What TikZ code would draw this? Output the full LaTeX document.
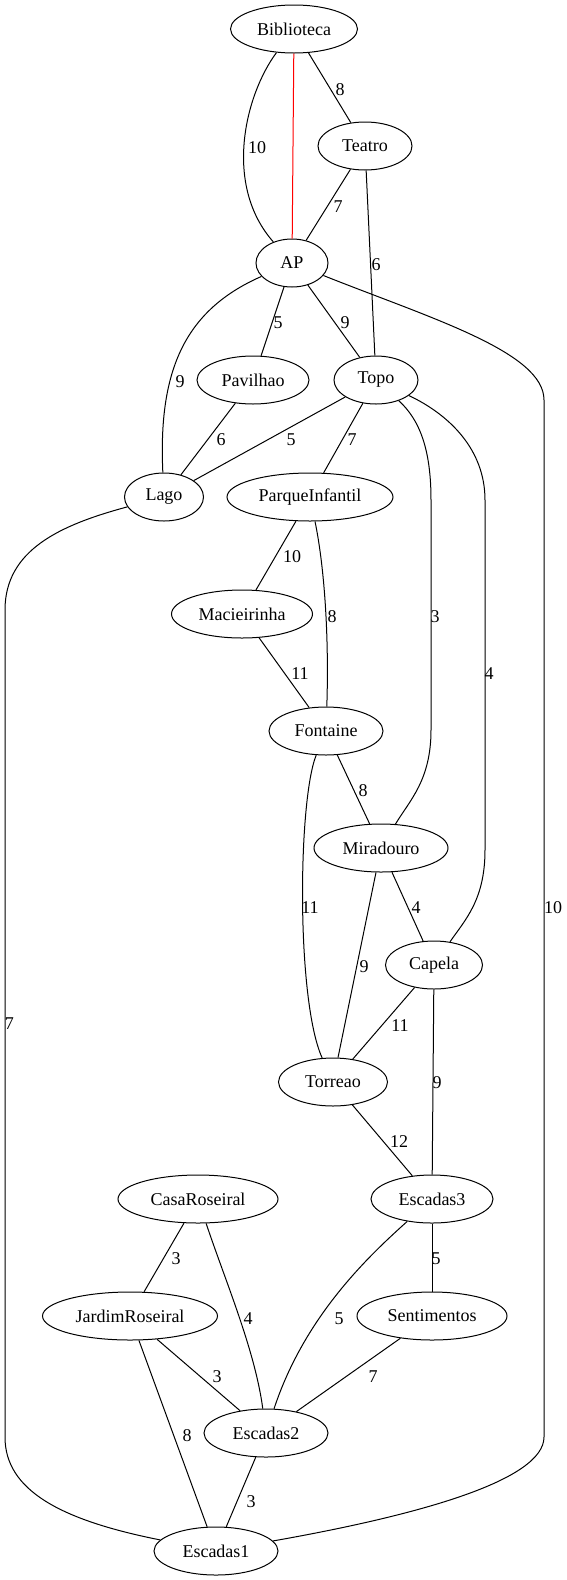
\documentclass[tikz,border=0pt]{standalone}
\usepackage{fontspec}
\setmainfont{Liberation Serif}
\usetikzlibrary{shapes.geometric}
\tikzset{
  v/.style={ellipse, draw, line width=1pt, minimum height=48pt, inner sep=0pt, font=\fontsize{18}{21}\selectfont},
  e/.style={line width=1pt},
  lbl/.style={inner sep=0pt, font=\fontsize{18}{21}\selectfont},
}
\begin{document}
\begin{tikzpicture}[x=1pt,y=-1pt]
\useasboundingbox (0,0) rectangle (567,1580);
% nodes
\node[v, minimum width=127pt] (Biblioteca) at (294,29) {Biblioteca};
\node[v, minimum width=94pt] (Teatro) at (365,146) {Teatro};
\node[v, minimum width=72pt] (AP) at (292,263) {AP};
\node[v, minimum width=112pt] (Pavilhao) at (253,380) {Pavilhao};
\node[v, minimum width=84pt] (Topo) at (376,380) {Topo};
\node[v, minimum width=79pt] (Lago) at (164,497) {Lago};
\node[v, minimum width=166pt] (ParqueInfantil) at (310,497) {ParqueInfantil};
\node[v, minimum width=141pt] (Macieirinha) at (242,614) {Macieirinha};
\node[v, minimum width=114pt] (Fontaine) at (326,731) {Fontaine};
\node[v, minimum width=134pt] (Miradouro) at (381,848) {Miradouro};
\node[v, minimum width=97pt] (Capela) at (434,965) {Capela};
\node[v, minimum width=109pt] (Torreao) at (333,1082) {Torreao};
\node[v, minimum width=160pt] (CasaRoseiral) at (198,1199) {CasaRoseiral};
\node[v, minimum width=122pt] (Escadas3) at (432,1199) {Escadas3};
\node[v, minimum width=175pt] (JardimRoseiral) at (130,1316) {JardimRoseiral};
\node[v, minimum width=150pt] (Sentimentos) at (432,1316) {Sentimentos};
\node[v, minimum width=124pt] (Escadas2) at (266,1433) {Escadas2};
\node[v, minimum width=124pt] (Escadas1) at (216,1551) {Escadas1};
% edges
\draw[e, red] (Biblioteca) -- (AP);
\draw[e] (Biblioteca) .. controls (245,95) and (223,185) .. (AP);
\node[lbl] (l1) at (257,148) {10};
\draw[e] (Biblioteca) -- (Teatro);
\node[lbl] (l2) at (340,90) {8};
\draw[e] (Teatro) -- (AP);
\node[lbl] (l3) at (338,207) {7};
\draw[e] (Teatro) -- (Topo);
\node[lbl] (l4) at (376,265) {6};
\draw[e] (AP) -- (Pavilhao);
\node[lbl] (l5) at (278,323) {5};
\draw[e] (AP) -- (Topo);
\node[lbl] (l6) at (345,323) {9};
\draw[e] (AP) .. controls (185,310) and (158,370) .. (Lago);
\node[lbl] (l7) at (180,382) {9};
\draw[e] (AP) .. controls (430,318) and (544,352) .. (544,400) -- (544,1437) .. controls (544,1480) and (420,1515) .. (Escadas1);
\node[lbl] (l8) at (553,908) {10};
\draw[e] (Pavilhao) -- (Lago);
\node[lbl] (l9) at (221,440) {6};
\draw[e] (Topo) -- (Lago);
\node[lbl] (l10) at (291,440) {5};
\draw[e] (Topo) -- (ParqueInfantil);
\node[lbl] (l11) at (352,440) {7};
\draw[e] (Topo) .. controls (420,420) and (431,450) .. (431,500) -- (431,730) .. controls (431,780) and (410,800) .. (Miradouro);
\node[lbl] (l12) at (435,617) {3};
\draw[e] (Topo) .. controls (450,415) and (485,450) .. (485,500) -- (485,850) .. controls (485,900) and (465,920) .. (Capela);
\node[lbl] (l13) at (489,674) {4};
\draw[e] (Lago) .. controls (60,525) and (5,550) .. (5,610) -- (5,1437) .. controls (5,1490) and (60,1520) .. (Escadas1);
\node[lbl] (l14) at (9.5,1024) {7};
\draw[e] (ParqueInfantil) -- (Macieirinha);
\node[lbl] (l15) at (292,557) {10};
\draw[e] (ParqueInfantil) .. controls (325,570) and (329,640) .. (Fontaine);
\node[lbl] (l16) at (332,617) {8};
\draw[e] (Macieirinha) -- (Fontaine);
\node[lbl] (l17) at (300,674) {11};
\draw[e] (Fontaine) -- (Miradouro);
\node[lbl] (l18) at (363,791) {8};
\draw[e] (Fontaine) .. controls (298,800) and (296,1000) .. (Torreao);
\node[lbl] (l19) at (310,908) {11};
\draw[e] (Miradouro) -- (Torreao);
\node[lbl] (l20) at (364,967) {9};
\draw[e] (Miradouro) -- (Capela);
\node[lbl] (l21) at (416,908) {4};
\draw[e] (Capela) -- (Torreao);
\node[lbl] (l22) at (400,1026) {11};
\draw[e] (Capela) -- (Escadas3);
\node[lbl] (l23) at (437,1083) {9};
\draw[e] (Torreao) -- (Escadas3);
\node[lbl] (l24) at (399,1142) {12};
\draw[e] (Escadas3) -- (Sentimentos);
\node[lbl] (l25) at (436,1259) {5};
\draw[e] (Escadas3) .. controls (370,1255) and (305,1315) .. (Escadas2);
\node[lbl] (l26) at (339,1319) {5};
\draw[e] (Sentimentos) -- (Escadas2);
\node[lbl] (l27) at (373,1377) {7};
\draw[e] (CasaRoseiral) -- (JardimRoseiral);
\node[lbl] (l28) at (176,1259) {3};
\draw[e] (CasaRoseiral) .. controls (225,1280) and (255,1350) .. (Escadas2);
\node[lbl] (l29) at (248,1319) {4};
\draw[e] (JardimRoseiral) -- (Escadas2);
\node[lbl] (l30) at (217,1377) {3};
\draw[e] (JardimRoseiral) -- (Escadas1);
\node[lbl] (l31) at (187,1436) {8};
\draw[e] (Escadas2) -- (Escadas1);
\node[lbl] (l32) at (251,1502) {3};
\end{tikzpicture}
\end{document}
